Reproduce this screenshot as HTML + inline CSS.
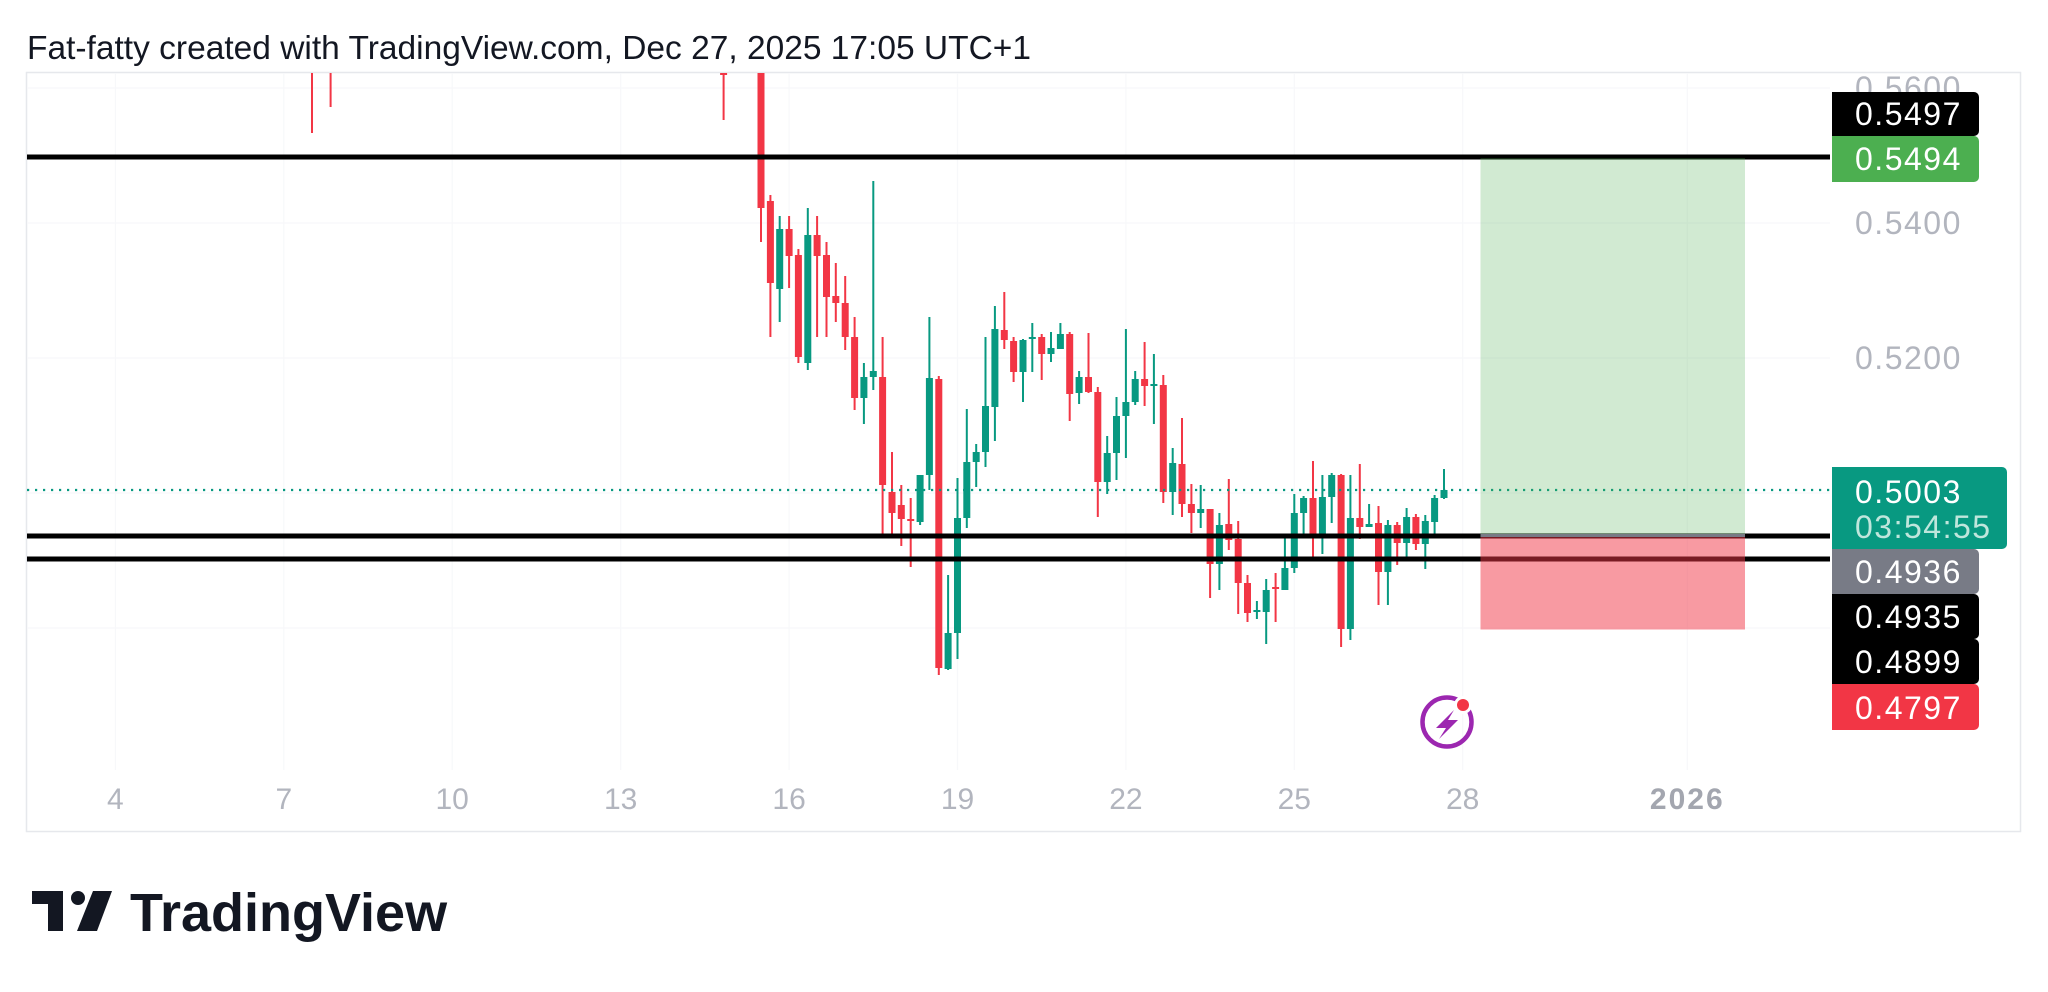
<!DOCTYPE html>
<html><head><meta charset="utf-8"><style>
html,body{margin:0;padding:0;background:#fff;}
svg{display:block;}
text{font-family:"Liberation Sans",Arial,sans-serif;}
</style></head><body>
<svg width="2048" height="992" viewBox="0 0 2048 992" xmlns="http://www.w3.org/2000/svg">
<defs><clipPath id="pane"><rect x="27" y="73" width="1993" height="758"/></clipPath></defs>
<rect width="2048" height="992" fill="#fff"/>
<text x="27" y="59" font-size="33.5" fill="#131722">Fat-fatty created with TradingView.com, Dec 27, 2025 17:05 UTC+1</text>
<rect x="26.5" y="72.5" width="1994" height="759" fill="none" stroke="#e6e8ec" stroke-width="1.5"/>
<g stroke="#f7f8fa" stroke-width="1.2">
<line x1="115.4" y1="73" x2="115.4" y2="770"/><line x1="283.8" y1="73" x2="283.8" y2="770"/><line x1="452.2" y1="73" x2="452.2" y2="770"/><line x1="620.7" y1="73" x2="620.7" y2="770"/><line x1="789.1" y1="73" x2="789.1" y2="770"/><line x1="957.5" y1="73" x2="957.5" y2="770"/><line x1="1125.9" y1="73" x2="1125.9" y2="770"/><line x1="1294.3" y1="73" x2="1294.3" y2="770"/><line x1="1462.7" y1="73" x2="1462.7" y2="770"/><line x1="1687.3" y1="73" x2="1687.3" y2="770"/>
<line x1="27" y1="88" x2="1830" y2="88"/><line x1="27" y1="223" x2="1830" y2="223"/><line x1="27" y1="358" x2="1830" y2="358"/><line x1="27" y1="493" x2="1830" y2="493"/><line x1="27" y1="628" x2="1830" y2="628"/>
</g>
<g clip-path="url(#pane)">
<g fill="#f23645">
<rect x="311" y="72" width="2" height="61"/>
<rect x="329.6" y="72" width="2" height="35"/>
<rect x="722.6" y="72" width="2" height="48"/><rect x="720.1" y="72" width="7" height="3"/>
<rect x="760" y="72" width="2" height="170"/><rect x="757.5" y="72" width="7" height="136"/>
<rect x="769.4" y="195" width="2" height="142"/><rect x="766.9" y="201" width="7" height="82"/>
<rect x="788.1" y="216" width="2" height="72"/><rect x="785.6" y="229" width="7" height="27"/>
<rect x="797.4" y="249" width="2" height="114"/><rect x="794.9" y="255" width="7" height="102"/>
<rect x="816.1" y="216" width="2" height="121"/><rect x="813.6" y="235" width="7" height="21"/>
<rect x="825.5" y="242" width="2" height="95"/><rect x="823" y="255" width="7" height="42"/>
<rect x="834.8" y="263" width="2" height="59"/><rect x="832.3" y="296" width="7" height="7"/>
<rect x="844.2" y="276" width="2" height="74"/><rect x="841.7" y="303" width="7" height="34"/>
<rect x="853.6" y="317" width="2" height="93"/><rect x="851.1" y="337" width="7" height="61"/>
<rect x="881.6" y="337" width="2" height="201"/><rect x="879.1" y="377" width="7" height="108"/>
<rect x="891" y="452" width="2" height="86"/><rect x="888.5" y="492" width="7" height="21"/>
<rect x="900.3" y="485" width="2" height="61"/><rect x="897.8" y="505" width="7" height="14"/>
<rect x="909.7" y="498" width="2" height="69"/><rect x="907.2" y="519" width="7" height="2"/>
<rect x="937.8" y="376" width="2" height="299"/><rect x="935.3" y="379" width="7" height="289"/>
<rect x="1003.3" y="292" width="2" height="57"/><rect x="1000.8" y="330" width="7" height="10"/>
<rect x="1012.6" y="337" width="2" height="45"/><rect x="1010.1" y="341" width="7" height="31"/>
<rect x="1040.7" y="334" width="2" height="46"/><rect x="1038.2" y="337" width="7" height="17"/>
<rect x="1068.7" y="332" width="2" height="89"/><rect x="1066.2" y="334" width="7" height="60"/>
<rect x="1087.5" y="333" width="2" height="60"/><rect x="1085" y="377" width="7" height="15"/>
<rect x="1096.8" y="387" width="2" height="130"/><rect x="1094.3" y="392" width="7" height="90"/>
<rect x="1143.6" y="342" width="2" height="64"/><rect x="1141.1" y="379" width="7" height="7"/>
<rect x="1162.3" y="375" width="2" height="128"/><rect x="1159.8" y="385" width="7" height="107"/>
<rect x="1181" y="418" width="2" height="99"/><rect x="1178.5" y="464" width="7" height="40"/>
<rect x="1190.4" y="484" width="2" height="49"/><rect x="1187.9" y="504" width="7" height="9"/>
<rect x="1209.1" y="509" width="2" height="89"/><rect x="1206.6" y="509" width="7" height="55"/>
<rect x="1227.8" y="479" width="2" height="71"/><rect x="1225.3" y="524" width="7" height="16"/>
<rect x="1237.2" y="521" width="2" height="93"/><rect x="1234.7" y="539" width="7" height="44"/>
<rect x="1246.5" y="575" width="2" height="47"/><rect x="1244" y="583" width="7" height="30"/>
<rect x="1274.6" y="573" width="2" height="49"/><rect x="1272.1" y="587" width="7" height="2"/>
<rect x="1312" y="461" width="2" height="98"/><rect x="1309.5" y="498" width="7" height="39"/>
<rect x="1340.1" y="474" width="2" height="173"/><rect x="1337.6" y="475" width="7" height="154"/>
<rect x="1358.8" y="464" width="2" height="75"/><rect x="1356.3" y="518" width="7" height="9"/>
<rect x="1377.5" y="506" width="2" height="99"/><rect x="1375" y="523" width="7" height="49"/>
<rect x="1396.2" y="522" width="2" height="43"/><rect x="1393.7" y="525" width="7" height="18"/>
<rect x="1414.9" y="514" width="2" height="36"/><rect x="1412.4" y="517" width="7" height="27"/>
</g>
<g fill="#089981">
<rect x="778.7" y="216" width="2" height="106"/><rect x="776.2" y="229" width="7" height="60"/>
<rect x="806.8" y="208" width="2" height="162"/><rect x="804.3" y="235" width="7" height="128"/>
<rect x="862.9" y="363" width="2" height="61"/><rect x="860.4" y="377" width="7" height="21"/>
<rect x="872.3" y="181" width="2" height="209"/><rect x="869.8" y="371" width="7" height="6"/>
<rect x="919.1" y="475" width="2" height="50"/><rect x="916.6" y="475" width="7" height="47"/>
<rect x="928.4" y="317" width="2" height="173"/><rect x="925.9" y="378" width="7" height="97"/>
<rect x="947.1" y="575" width="2" height="95"/><rect x="944.6" y="633" width="7" height="36"/>
<rect x="956.5" y="478" width="2" height="181"/><rect x="954" y="518" width="7" height="115"/>
<rect x="965.8" y="409" width="2" height="119"/><rect x="963.3" y="462" width="7" height="56"/>
<rect x="975.2" y="444" width="2" height="43"/><rect x="972.7" y="452" width="7" height="10"/>
<rect x="984.5" y="337" width="2" height="130"/><rect x="982" y="406" width="7" height="46"/>
<rect x="993.9" y="306" width="2" height="135"/><rect x="991.4" y="329" width="7" height="78"/>
<rect x="1022" y="339" width="2" height="63"/><rect x="1019.5" y="340" width="7" height="32"/>
<rect x="1031.3" y="323" width="2" height="49"/><rect x="1028.8" y="337" width="7" height="2"/>
<rect x="1050" y="332" width="2" height="30"/><rect x="1047.5" y="348" width="7" height="6"/>
<rect x="1059.4" y="323" width="2" height="26"/><rect x="1056.9" y="334" width="7" height="15"/>
<rect x="1078.1" y="371" width="2" height="33"/><rect x="1075.6" y="377" width="7" height="16"/>
<rect x="1106.2" y="436" width="2" height="58"/><rect x="1103.7" y="453" width="7" height="29"/>
<rect x="1115.5" y="397" width="2" height="83"/><rect x="1113" y="416" width="7" height="37"/>
<rect x="1124.9" y="329" width="2" height="129"/><rect x="1122.4" y="402" width="7" height="14"/>
<rect x="1134.2" y="371" width="2" height="34"/><rect x="1131.7" y="379" width="7" height="23"/>
<rect x="1152.9" y="354" width="2" height="70"/><rect x="1150.4" y="384" width="7" height="2"/>
<rect x="1171.7" y="448" width="2" height="67"/><rect x="1169.2" y="463" width="7" height="29"/>
<rect x="1199.7" y="485" width="2" height="43"/><rect x="1197.2" y="509" width="7" height="4"/>
<rect x="1218.4" y="513" width="2" height="77"/><rect x="1215.9" y="525" width="7" height="39"/>
<rect x="1255.9" y="601" width="2" height="18"/><rect x="1253.4" y="610" width="7" height="2"/>
<rect x="1265.2" y="579" width="2" height="65"/><rect x="1262.7" y="590" width="7" height="22"/>
<rect x="1283.9" y="538" width="2" height="52"/><rect x="1281.4" y="568" width="7" height="22"/>
<rect x="1293.3" y="494" width="2" height="79"/><rect x="1290.8" y="513" width="7" height="55"/>
<rect x="1302.6" y="496" width="2" height="41"/><rect x="1300.1" y="498" width="7" height="15"/>
<rect x="1321.4" y="475" width="2" height="79"/><rect x="1318.9" y="497" width="7" height="40"/>
<rect x="1330.7" y="473" width="2" height="50"/><rect x="1328.2" y="475" width="7" height="22"/>
<rect x="1349.4" y="475" width="2" height="165"/><rect x="1346.9" y="518" width="7" height="111"/>
<rect x="1368.1" y="504" width="2" height="23"/><rect x="1365.6" y="524" width="7" height="3"/>
<rect x="1386.9" y="520" width="2" height="85"/><rect x="1384.4" y="525" width="7" height="47"/>
<rect x="1405.6" y="508" width="2" height="53"/><rect x="1403.1" y="517" width="7" height="26"/>
<rect x="1424.3" y="515" width="2" height="54"/><rect x="1421.8" y="521" width="7" height="23"/>
<rect x="1433.6" y="495" width="2" height="39"/><rect x="1431.1" y="498" width="7" height="24"/>
<rect x="1443" y="469" width="2" height="30"/><rect x="1440.5" y="490" width="7" height="8"/>
</g>
</g>
<line x1="27" y1="490" x2="1830" y2="490" stroke="#089981" stroke-width="2.2" stroke-dasharray="2.2 5.8"/>
<g fill="#000">
<rect x="27" y="154.5" width="1803" height="5"/>
<rect x="27" y="533.5" width="1803" height="5"/>
<rect x="27" y="556.5" width="1803" height="5"/>
</g>
<rect x="1480.5" y="158" width="264.5" height="378" fill="#4caf50" fill-opacity="0.26"/>
<rect x="1480.5" y="536" width="264.5" height="93.5" fill="#f23645" fill-opacity="0.5"/>
<rect x="1480.5" y="534" width="264.5" height="3" fill="#787b86"/>
<g font-size="32" fill="#b2b5be" letter-spacing="1.5" clip-path="url(#pane)">
<text x="1855" y="99">0.5600</text>
<text x="1855" y="234">0.5400</text>
<text x="1855" y="369">0.5200</text>
</g>
<g font-size="32" fill="#fff" letter-spacing="1.5">
<path d="M1832 92 H1974 a5 5 0 0 1 5 5 V131 a5 5 0 0 1 -5 5 H1832 Z" fill="#000"/>
<text x="1855" y="125">0.5497</text>
<path d="M1832 136 H1974 a5 5 0 0 1 5 5 V177 a5 5 0 0 1 -5 5 H1832 Z" fill="#4caf50"/>
<text x="1855" y="170">0.5494</text>
<path d="M1832 467 H2002 a5 5 0 0 1 5 5 V544 a5 5 0 0 1 -5 5 H1832 Z" fill="#089981"/>
<text x="1855" y="503">0.5003</text>
<text x="1855" y="538" fill="#bfe6dc">03:54:55</text>
<path d="M1832 549 H1974 a5 5 0 0 1 5 5 V589 a5 5 0 0 1 -5 5 H1832 Z" fill="#787b86"/>
<text x="1855" y="583">0.4936</text>
<path d="M1832 594 H1974 a5 5 0 0 1 5 5 V634 a5 5 0 0 1 -5 5 H1832 Z" fill="#000"/>
<text x="1855" y="628">0.4935</text>
<path d="M1832 639 H1974 a5 5 0 0 1 5 5 V679 a5 5 0 0 1 -5 5 H1832 Z" fill="#000"/>
<text x="1855" y="673">0.4899</text>
<path d="M1832 684 H1974 a5 5 0 0 1 5 5 V725 a5 5 0 0 1 -5 5 H1832 Z" fill="#f23645"/>
<text x="1855" y="719">0.4797</text>
</g>
<g font-size="30" fill="#b2b5be" text-anchor="middle">
<text x="115.4" y="809">4</text>
<text x="283.8" y="809">7</text>
<text x="452.2" y="809">10</text>
<text x="620.7" y="809">13</text>
<text x="789.1" y="809">16</text>
<text x="957.5" y="809">19</text>
<text x="1125.9" y="809">22</text>
<text x="1294.3" y="809">25</text>
<text x="1462.7" y="809">28</text>
<text x="1687.3" y="809" font-weight="bold" fill="#a3a6af" letter-spacing="2">2026</text>
</g>
<circle cx="1447" cy="722" r="24.5" fill="none" stroke="#9c27b0" stroke-width="4.5"/>
<circle cx="1463" cy="705" r="9" fill="#fff"/>
<circle cx="1463" cy="705" r="6" fill="#f23645"/>
<path d="M1454 710 L1436 728 L1446 728 L1439 739 L1458 720 L1448 720 Z" fill="#9c27b0"/>
<g fill="#131722">
<path d="M32 891 H63 V931 H48 V904 H32 Z"/>
<circle cx="78" cy="898" r="7"/>
<path d="M93 891 H112 L97 931 H77 Z"/>
</g>
<text x="130" y="931" font-size="54" font-weight="bold" fill="#131722">TradingView</text>
</svg>
</body></html>
